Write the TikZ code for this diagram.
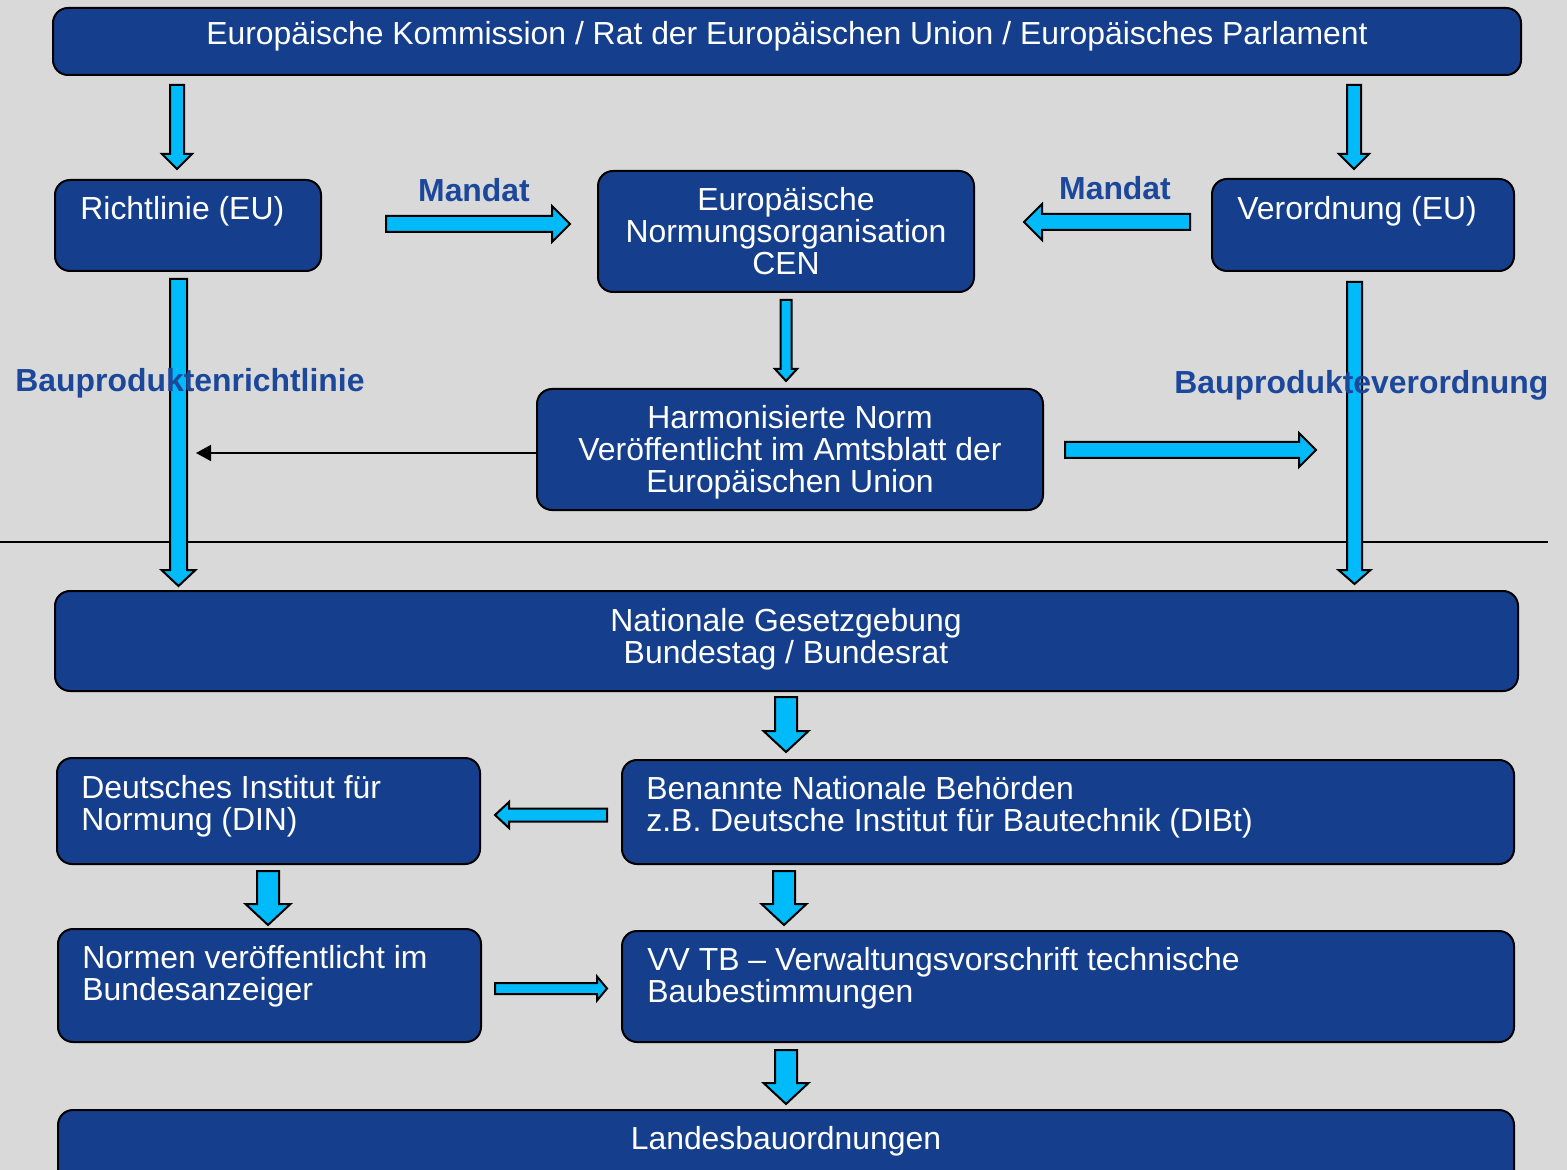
\documentclass[tikz,border=0pt]{standalone}
\usepackage{fontspec}
\setmainfont{Liberation Sans}
\usetikzlibrary{calc,fit,arrows.meta}
\definecolor{bg}{RGB}{217,217,217}
\definecolor{boxblue}{RGB}{21,63,141}
\definecolor{arrcyan}{RGB}{0,186,250}
\definecolor{lblblue}{RGB}{28,72,155}
\newcommand\tstrut{\rule{0pt}{14pt}}
\newcommand\barrow[5]{%
  \coordinate (bah) at ($(#2)!#5!(#1)$);
  \draw[blockarr] ($(#1)!#3!90:(#2)$) -- ($(bah)!#3!-90:(#1)$) -- ($(bah)!#4!-90:(#1)$) -- (#2)
    -- ($(bah)!#4!90:(#1)$) -- ($(bah)!#3!90:(#1)$) -- ($(#1)!#3!-90:(#2)$) -- cycle;}
\begin{document}
\begin{tikzpicture}[x=0.5pt,y=-0.5pt,
  box/.style={draw=black, line width=1pt, fill=boxblue, rounded corners=7.5pt, inner sep=0pt},
  btxt/.style={text=white, inner sep=0pt, font=\fontsize{15.95}{16}\selectfont},
  lbl/.style={text=lblblue, inner sep=0pt, font=\fontsize{15.95}{16}\selectfont\bfseries},
  blockarr/.style={draw=black, line width=1pt, fill=arrcyan, line join=miter},
  thinarr/.style={draw=black, line width=0.75pt, -{Triangle[length=7.5pt,width=8pt]}},
]
\useasboundingbox (0,0) rectangle (1567,1170);
\fill[bg] (0,0) rectangle (1567,1170);
\clip (0,0) rectangle (1567,1170);

% boxes
\node[box, fit={(53,8) (1521,75)}] (top) {};
\node[box, fit={(55,180) (321,271)}] (rich) {};
\node[box, fit={(598,171) (974,292)}] (cen) {};
\node[box, fit={(1212,179) (1514,271)}] (ver) {};
\node[box, fit={(537,389) (1043,510)}] (harm) {};
\node[box, fit={(55,591) (1518,691)}] (nat) {};
\node[box, fit={(57,758) (480,864)}] (din) {};
\node[box, fit={(622,760) (1514,864)}] (ben) {};
\node[box, fit={(58,929) (481,1042)}] (norm) {};
\node[box, fit={(622,931) (1514,1042)}] (vv) {};
\node[box, fit={(58,1110) (1514,1200)}] (land) {};

% separator line
\coordinate (hl1) at (0,542);
\coordinate (hl2) at (1548,542);
\draw[line width=1pt] (hl1) -- (hl2);

% block arrow end points
\coordinate (a1s) at (177,85);    \coordinate (a1e) at (177,169);
\coordinate (a2s) at (1354,85);   \coordinate (a2e) at (1354,169);
\coordinate (m1s) at (386,224);   \coordinate (m1e) at (570,224);
\coordinate (m2s) at (1190,222);  \coordinate (m2e) at (1024,222);
\coordinate (c1s) at (786,300);   \coordinate (c1e) at (786,381);
\coordinate (lls) at (178.5,279); \coordinate (lle) at (178.5,586);
\coordinate (rls) at (1354.5,282);\coordinate (rle) at (1354.5,584);
\coordinate (hrs) at (1065,450);  \coordinate (hre) at (1316,450);
\coordinate (n1s) at (786,697);   \coordinate (n1e) at (786,752);
\coordinate (d1s) at (607,815);   \coordinate (d1e) at (495,815);
\coordinate (d2s) at (268,871);   \coordinate (d2e) at (268,925);
\coordinate (d3s) at (784,871);   \coordinate (d3e) at (784,925);
\coordinate (d4s) at (495,988.5); \coordinate (d4e) at (607,988.5);
\coordinate (d5s) at (786,1050);  \coordinate (d5e) at (786,1104);

\barrow{a1s}{a1e}{3.5pt}{7.5pt}{7.5pt}
\barrow{a2s}{a2e}{3.5pt}{7.5pt}{7.5pt}
\barrow{m1s}{m1e}{4pt}{9pt}{9pt}
\barrow{m2s}{m2e}{4pt}{9pt}{9pt}
\barrow{c1s}{c1e}{2.75pt}{5.5pt}{6pt}
\barrow{lls}{lle}{4.25pt}{8.5pt}{8pt}
\barrow{rls}{rle}{3.75pt}{8pt}{7pt}
\barrow{hrs}{hre}{4pt}{8.5pt}{8.5pt}
\barrow{n1s}{n1e}{5.5pt}{11.25pt}{10.5pt}
\barrow{d1s}{d1e}{3.25pt}{6.5pt}{7pt}
\barrow{d2s}{d2e}{5.5pt}{11.25pt}{10.5pt}
\barrow{d3s}{d3e}{5.5pt}{11.25pt}{10.5pt}
\barrow{d4s}{d4e}{2.75pt}{6pt}{5pt}
\barrow{d5s}{d5e}{5.5pt}{11.25pt}{10.5pt}

% thin arrow
\coordinate (thinend) at (196,453);
\draw[thinarr] (harm.west |- thinend) -- (thinend);

% texts
\node[btxt, anchor=north] (ttop) at (787,16) {\tstrut Europäische Kommission / Rat der Europäischen Union / Europäisches Parlament};
\node[btxt, anchor=north west] (trich) at (80,191) {\tstrut Richtlinie (EU)};
\node[btxt, anchor=north, align=center] (tcen) at (786,182) {\tstrut Europäische\\Normungsorganisation\\CEN};
\node[btxt, anchor=north west] (tver) at (1237,191) {\tstrut Verordnung (EU)};
\node[btxt, anchor=north, align=center] (tharm) at (790,400) {\tstrut Harmonisierte Norm\\Veröffentlicht im Amtsblatt der\\Europäischen Union};
\node[btxt, anchor=north, align=center] (tnat) at (786,603) {\tstrut Nationale Gesetzgebung\\Bundestag / Bundesrat};
\node[btxt, anchor=north west, align=left] (tdin) at (81,770) {\tstrut Deutsches Institut für\\Normung (DIN)};
\node[btxt, anchor=north west, align=left] (tben) at (646,771) {\tstrut Benannte Nationale Behörden\\z.B. Deutsche Institut für Bautechnik (DIBt)};
\node[btxt, anchor=north west, align=left] (tnorm) at (82,940) {\tstrut Normen veröffentlicht im\\Bundesanzeiger};
\node[btxt, anchor=north west, align=left] (tvv) at (647,942) {\tstrut VV TB – Verwaltungsvorschrift technische\\Baubestimmungen};
\node[btxt, anchor=north] (tland) at (786,1121) {\tstrut Landesbauordnungen};

\node[lbl, anchor=north] (mand1) at (474,173) {\tstrut Mandat};
\node[lbl, anchor=north] (mand2) at (1115,171) {\tstrut Mandat};
\node[lbl, anchor=north west] (bpr) at (15,363) {\tstrut Bauproduktenrichtlinie};
\node[lbl, anchor=north west] (bpv) at (1174,365) {\tstrut Bauprodukteverordnung};
\end{tikzpicture}
\end{document}
